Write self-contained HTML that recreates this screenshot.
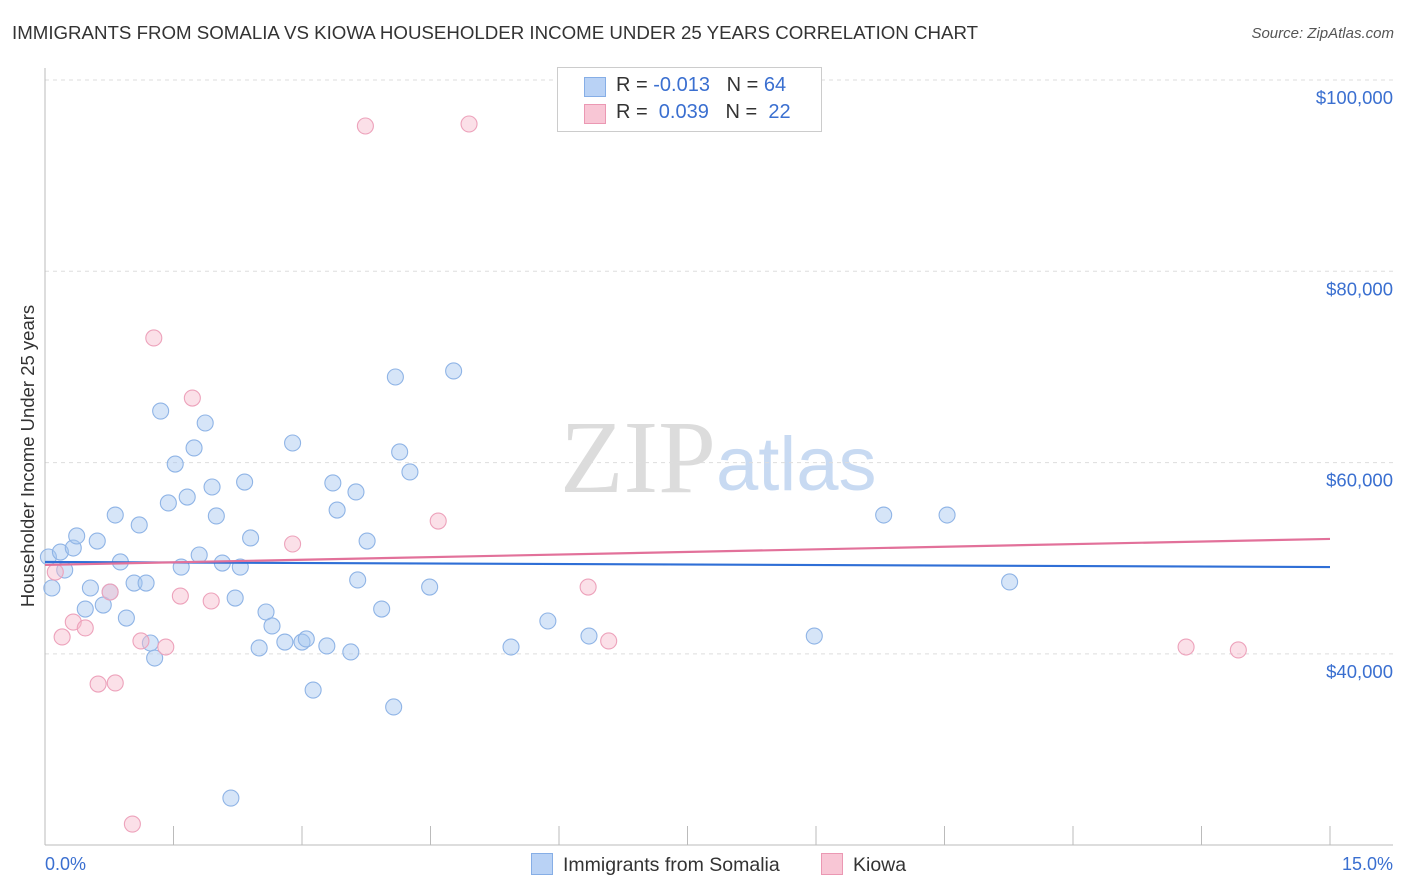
<!DOCTYPE html>
<html><head><meta charset="utf-8">
<style>
body{margin:0;background:#fff;font-family:"Liberation Sans",sans-serif;}
#wrap{position:relative;width:1406px;height:892px;overflow:hidden;}
.t{position:absolute;white-space:nowrap;}
</style></head>
<body>
<div id="wrap">
<div class="t" style="left:12px;top:22px;font-size:18.7px;color:#333;">IMMIGRANTS FROM SOMALIA VS KIOWA HOUSEHOLDER INCOME UNDER 25 YEARS CORRELATION CHART</div>
<div class="t" style="right:12px;top:25px;font-size:15px;color:#555;font-style:italic;">Source: ZipAtlas.com</div>
<svg id="svg" width="1406" height="892" style="position:absolute;left:0;top:0;"></svg>
</div>
<script>
const xTicks=[0,1.5,3,4.5,6,7.5,9,10.5,12,13.5,15];
const yTicks=[40000,60000,80000,100000];
const yTickLabels=["$40,000","$60,000","$80,000","$100,000"];
const somaliaX=[0.04,0.08,0.18,0.23,0.33,0.37,0.47,0.53,0.61,0.68,0.76,0.82,0.88,0.95,1.04,1.10,1.18,1.23,1.28,1.35,1.44,1.52,1.59,1.66,1.74,1.80,1.87,1.95,2.00,2.07,2.17,2.22,2.28,2.33,2.40,2.50,2.58,2.65,2.80,2.89,3.00,3.05,3.13,3.29,3.36,3.41,3.57,3.63,3.65,3.76,3.93,4.07,4.09,4.14,4.26,4.49,4.77,5.44,5.87,6.35,8.98,9.79,10.53,11.26];
const somaliaY=[50130,46890,50650,48770,51070,52330,44690,46890,51800,45110,46470,54520,49610,43750,47410,53480,47410,41140,39570,65390,55780,59850,49080,56400,61530,50340,64140,57450,54420,49500,24930,45840,49080,57970,52120,40620,44380,42920,41240,62050,41240,41560,36220,40830,57870,55040,40200,56930,47730,51800,44690,34450,68950,61110,59020,46990,69580,40720,43440,41870,41870,54520,54520,47520];
const kiowaX=[0.12,0.20,0.33,0.47,0.62,0.82,0.76,1.02,1.12,1.27,1.41,1.58,1.72,1.94,2.89,3.74,4.59,4.95,6.34,6.58,13.32,13.93];
const kiowaY=[48560,41770,43330,42710,36850,36960,46470,22210,41350,73030,40720,46050,66750,45530,51490,95190,53890,95400,46990,41350,40720,40410];
const somaliaTrend=[49610,49080];
const kiowaTrend=[49300,52020];

const X=v=>45+v/15*1285;
const Y=v=>80+(100000-v)/20000*191.3;
const svg=document.getElementById('svg');
const NS='http://www.w3.org/2000/svg';
function mk(tag,attrs,parent){const e=document.createElementNS(NS,tag);for(const k in attrs)e.setAttribute(k,attrs[k]);(parent||svg).appendChild(e);return e;}

let w=mk('text',{x:716,y:492,'text-anchor':'end','font-size':104,fill:'#dcdcdc','font-family':'Liberation Serif,serif'});w.textContent='ZIP';

let w2=mk('text',{x:716,y:490,'font-size':76,fill:'#c8daf2','font-family':'Liberation Sans,sans-serif'});w2.textContent='atlas';


yTicks.forEach((t,i)=>{
 const g=mk('line',{x1:45,x2:1393,y1:Y(t),y2:Y(t),stroke:'#ddd','stroke-dasharray':'4,4'});
 
 const l=mk('text',{x:1393,y:Y(t)+24,'text-anchor':'end','font-size':18.5,fill:'#3a6fd0'});l.textContent=yTickLabels[i];
 
});
let ax=mk('line',{x1:45,x2:1393,y1:845,y2:845,stroke:'#bbb'});

let ay=mk('line',{x1:45,x2:45,y1:68,y2:845,stroke:'#bbb'});

xTicks.forEach(t=>{const e=mk('line',{x1:X(t),x2:X(t),y1:826,y2:845,stroke:'#bbb'});
 });
let x0=mk('text',{x:45,y:870,'font-size':18,fill:'#3a6fd0'});x0.textContent='0.0%';

let x1=mk('text',{x:1393,y:870,'text-anchor':'end','font-size':18,fill:'#3a6fd0'});x1.textContent='15.0%';

let yt=mk('text',{x:34,y:456,'text-anchor':'middle','font-size':18.5,fill:'#333',transform:'rotate(-90 34 456)'});yt.textContent='Householder Income Under 25 years';


somaliaX.forEach((v,i)=>{const c=mk('circle',{cx:X(v),cy:Y(somaliaY[i]),r:8,fill:'rgba(165,198,240,0.45)',stroke:'#8fb4e6','stroke-width':1.1});
 });
kiowaX.forEach((v,i)=>{const c=mk('circle',{cx:X(v),cy:Y(kiowaY[i]),r:8,fill:'rgba(246,186,205,0.45)',stroke:'#eda2bb','stroke-width':1.1});
 });
let l1=mk('line',{x1:X(0),x2:X(15),y1:Y(somaliaTrend[0]),y2:Y(somaliaTrend[1]),stroke:'#2f6fd6','stroke-width':2.2});

let l2=mk('line',{x1:X(0),x2:X(15),y1:Y(kiowaTrend[0]),y2:Y(kiowaTrend[1]),stroke:'#e2719a','stroke-width':2.2});

</script>
<div class="t" style="left:557px;top:67px;width:263px;height:63px;border:1px solid #ccc;background:#fff;font-size:20px;color:#333;">
 <div style="position:absolute;left:26px;top:9px;width:20px;height:18px;background:#b9d2f5;border:1px solid #86aee6;"></div>
 <div style="position:absolute;left:58px;top:6px;">R = <span style="color:#3a6fd0">-0.013</span>&nbsp;&nbsp;&nbsp;N = <span style="color:#3a6fd0">64</span></div>
 <div style="position:absolute;left:26px;top:36px;width:20px;height:18px;background:#f8c6d5;border:1px solid #eb98b3;"></div>
 <div style="position:absolute;left:58px;top:33px;">R = &nbsp;<span style="color:#3a6fd0">0.039</span>&nbsp;&nbsp;&nbsp;N = &nbsp;<span style="color:#3a6fd0">22</span></div>
</div>
<div class="t" style="left:531px;top:853px;font-size:19.5px;color:#333;">
 <span style="display:inline-block;width:20px;height:20px;background:#b9d2f5;border:1px solid #86aee6;vertical-align:-4px;margin-right:10px;"></span>Immigrants from Somalia</div>
<div class="t" style="left:821px;top:853px;font-size:19.5px;color:#333;">
 <span style="display:inline-block;width:20px;height:20px;background:#f8c6d5;border:1px solid #eb98b3;vertical-align:-4px;margin-right:10px;"></span>Kiowa</div>
</body></html>
